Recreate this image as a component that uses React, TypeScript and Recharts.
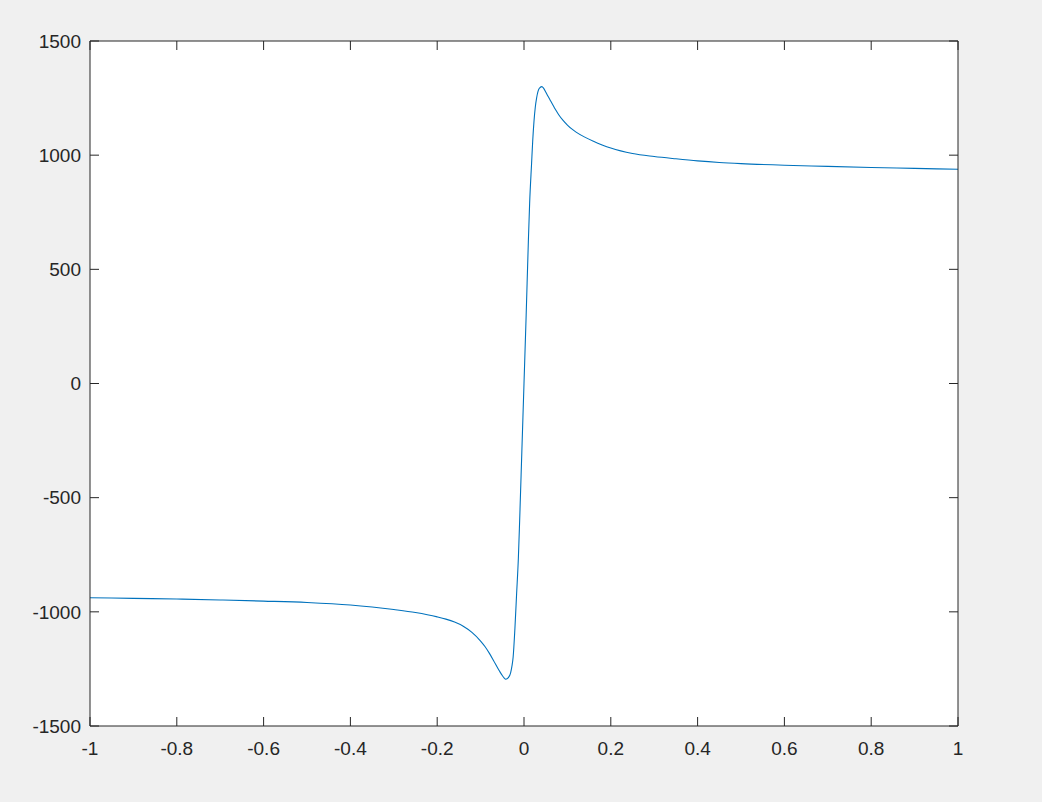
import { LineChart, Line, XAxis, YAxis } from 'recharts';

// values
const xValues = [
    -1, -0.9, -0.8, -0.7, -0.6, -0.5, -0.4, -0.35, -0.3, -0.25, -0.2, -0.18, -0.16, -0.14, -0.12, -0.1,
    -0.09, -0.08, -0.07, -0.06, -0.055, -0.05, -0.046, -0.042, -0.036, -0.031, -0.028, -0.025, -0.021, -0.017, -0.013,
    -0.01, -0.005, 0, 0.005, 0.01, 0.013, 0.0175, 0.02, 0.023, 0.026, 0.029, 0.035, 0.041, 0.045, 0.05,
    0.055, 0.06, 0.065, 0.07, 0.075, 0.08, 0.09, 0.1, 0.11, 0.12, 0.14, 0.16, 0.18, 0.2, 0.25, 0.3, 0.35,
    0.4, 0.45, 0.5, 0.6, 0.7, 0.8, 0.9, 1
];
const yValues = [
    -938, -941, -944, -948, -953, -959, -970, -979, -990, -1003, -1022, -1032, -1045, -1063, -1090, -1128,
    -1152, -1181, -1214, -1248, -1264, -1279, -1289, -1295, -1288, -1268, -1240, -1198, -1075, -920, -765,
    -600, -300, 0, 300, 620, 790, 965, 1060, 1148, 1210, 1250, 1292, 1300, 1294, 1277,
    1259, 1242, 1225, 1208, 1192, 1177, 1152, 1132, 1115, 1101, 1079, 1061, 1045, 1031, 1007, 994, 984,
    975, 968, 963, 956, 951, 946, 942, 938
];
const xTicks = [-1, -0.8, -0.6, -0.4, -0.2, 0, 0.2, 0.4, 0.6, 0.8, 1];
const yTicks = [-1500, -1000, -500, 0, 500, 1000, 1500];

const data = xValues.map((x, i) => ({ x, y: yValues[i] }));

const axisColor = '#262626';
const font = { fontSize: 19, fill: axisColor, fontFamily: '"Liberation Sans", Helvetica, Arial, sans-serif' };
const blank = () => '';

export default function App() {
    return (
        <div style={{ position: 'absolute', left: 0, top: 0, width: 1042, height: 802, background: '#f0f0f0' }}>
            <LineChart width={1042} height={802} data={data} margin={{ top: 0, right: 0, bottom: 0, left: 0 }}>
                <rect x={90} y={41} width={868} height={685} fill="#ffffff" />
                <XAxis xAxisId="b" dataKey="x" type="number" domain={[-1, 1]} ticks={xTicks} orientation="bottom"
                    height={76} tickSize={-9} tickMargin={25} stroke={axisColor} tick={font} allowDataOverflow />
                <XAxis xAxisId="t" dataKey="x" type="number" domain={[-1, 1]} ticks={xTicks} orientation="top"
                    height={41} tickSize={-9} tickFormatter={blank} stroke={axisColor} allowDataOverflow />
                <YAxis yAxisId="l" type="number" domain={[-1500, 1500]} ticks={yTicks} orientation="left"
                    width={90} tickSize={-9} tickMargin={18} stroke={axisColor} tick={font} allowDataOverflow />
                <YAxis yAxisId="r" type="number" domain={[-1500, 1500]} ticks={yTicks} orientation="right"
                    width={84} tickSize={-9} tickFormatter={blank} stroke={axisColor} allowDataOverflow />
                <Line xAxisId="b" yAxisId="l" dataKey="y" type="monotone" stroke="#0072BD" strokeWidth={1.1}
                    dot={false} isAnimationActive={false} />
            </LineChart>
        </div>
    );
}
